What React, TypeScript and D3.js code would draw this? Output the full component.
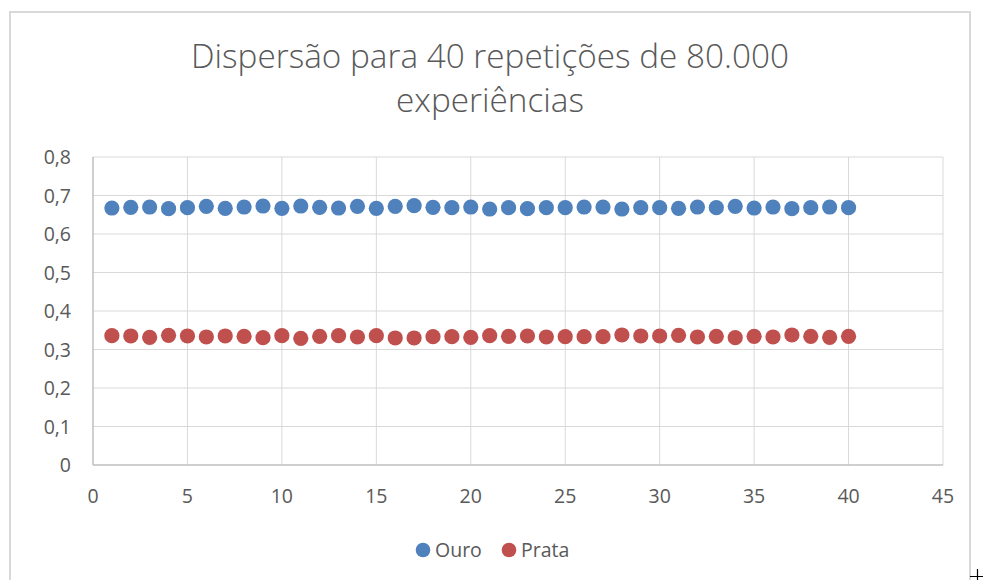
import React, { useRef, useEffect } from "react";
import * as d3 from "d3";

// repetition number 1..40
const repeticoes = d3.range(1, 41);

const ouro = [
  0.6675, 0.6693, 0.6701, 0.6658, 0.6684, 0.6719, 0.6667, 0.6701, 0.6727, 0.6667,
  0.6727, 0.6693, 0.6675, 0.6719, 0.6667, 0.6719, 0.6736, 0.6693, 0.6684, 0.6701,
  0.6649, 0.6684, 0.6658, 0.6684, 0.6684, 0.6701, 0.6701, 0.6649, 0.6684, 0.6684,
  0.6667, 0.6701, 0.6684, 0.6719, 0.6675, 0.6701, 0.6658, 0.6684, 0.6701, 0.6684,
];

const prata = [
  0.3359, 0.3351, 0.3316, 0.3368, 0.3351, 0.3325, 0.3351, 0.3342, 0.3307, 0.3359,
  0.329, 0.3342, 0.3359, 0.3325, 0.3359, 0.3299, 0.3299, 0.3333, 0.3333, 0.3316,
  0.3359, 0.3342, 0.3351, 0.3325, 0.3333, 0.3333, 0.3333, 0.3377, 0.3351, 0.3351,
  0.3368, 0.3325, 0.3342, 0.3307, 0.3342, 0.3325, 0.3377, 0.3342, 0.3316, 0.3342,
];

const xTicks = [0, 5, 10, 15, 20, 25, 30, 35, 40, 45];
const yTicks = [0, 0.1, 0.2, 0.3, 0.4, 0.5, 0.6, 0.7, 0.8];
const tituloLinhas = ["Dispersão para 40 repetições de 80.000", "experiências"];
const series = [
  { name: "Ouro", values: ouro, color: "#4f81bd" },
  { name: "Prata", values: prata, color: "#c0504d" },
];

const W = 983;
const H = 580;
const FONT = "'Open Sans', 'Noto Sans', sans-serif";
const TEXT = "#595959";

export default function App() {
  const svgRef = useRef<SVGSVGElement>(null);

  useEffect(() => {
    const svg = d3.select(svgRef.current);
    svg.selectAll("*").remove();

    const x = d3.scaleLinear().domain([0, 45]).range([93, 943]);
    const y = d3.scaleLinear().domain([0, 0.8]).range([465, 157]);
    const fmt = (v: number) => (v === 0 ? "0" : d3.format(".1f")(v).replace(".", ","));

    svg.append("rect").attr("width", W).attr("height", H).attr("fill", "white");

    // chart frame
    svg
      .append("rect")
      .attr("x", 10)
      .attr("y", 12)
      .attr("width", 960)
      .attr("height", 620)
      .attr("fill", "none")
      .attr("stroke", "#d9d9d9")
      .attr("stroke-width", 2);

    // title (two lines)
    svg
      .append("g")
      .selectAll("text")
      .data(tituloLinhas)
      .enter()
      .append("text")
      .attr("x", 490)
      .attr("y", (d, i) => 68 + i * 44)
      .attr("text-anchor", "middle")
      .attr("font-family", FONT)
      .attr("font-weight", 300)
      .attr("font-size", 33.3)
      .attr("fill", TEXT)
      .text((d) => d);

    // grid
    const grid = svg.append("g");
    grid
      .selectAll(".h")
      .data(yTicks.slice(1))
      .enter()
      .append("line")
      .attr("x1", x(0))
      .attr("x2", x(45))
      .attr("y1", (d) => y(d))
      .attr("y2", (d) => y(d))
      .attr("stroke", "#d9d9d9");
    grid
      .selectAll(".v")
      .data(xTicks.slice(1))
      .enter()
      .append("line")
      .attr("x1", (d) => x(d))
      .attr("x2", (d) => x(d))
      .attr("y1", y(0))
      .attr("y2", y(0.8))
      .attr("stroke", "#d9d9d9");

    // axes lines
    svg
      .append("line")
      .attr("x1", x(0))
      .attr("x2", x(45))
      .attr("y1", y(0))
      .attr("y2", y(0))
      .attr("stroke", "#bfbfbf")
      .attr("stroke-width", 1.5);
    svg
      .append("line")
      .attr("x1", x(0))
      .attr("x2", x(0))
      .attr("y1", y(0))
      .attr("y2", y(0.8))
      .attr("stroke", "#bfbfbf")
      .attr("stroke-width", 1.5);

    // tick labels
    svg
      .append("g")
      .selectAll("text")
      .data(yTicks)
      .enter()
      .append("text")
      .attr("x", 71)
      .attr("y", (d) => y(d))
      .attr("dy", "0.36em")
      .attr("text-anchor", "end")
      .attr("font-family", FONT)
      .attr("font-size", 19.5)
      .attr("fill", TEXT)
      .text((d) => fmt(d));
    svg
      .append("g")
      .selectAll("text")
      .data(xTicks)
      .enter()
      .append("text")
      .attr("x", (d) => x(d))
      .attr("y", 503)
      .attr("text-anchor", "middle")
      .attr("font-family", FONT)
      .attr("font-size", 19.5)
      .attr("fill", TEXT)
      .text((d) => d);

    // points
    series.forEach((s) => {
      svg
        .append("g")
        .selectAll("circle")
        .data(s.values)
        .enter()
        .append("circle")
        .attr("cx", (d, i) => x(repeticoes[i]))
        .attr("cy", (d) => y(d))
        .attr("r", 7.6)
        .attr("fill", s.color);
    });

    // legend
    const legX = [423, 509];
    const leg = svg
      .append("g")
      .selectAll("g")
      .data(series)
      .enter()
      .append("g")
      .attr("transform", (d, i) => `translate(${legX[i]},550)`);
    leg.append("circle").attr("r", 7.3).attr("fill", (d) => d.color);
    leg
      .append("text")
      .attr("x", 12)
      .attr("dy", "0.36em")
      .attr("font-family", FONT)
      .attr("font-size", 19.5)
      .attr("fill", TEXT)
      .text((d) => d.name);

    // little cursor mark in the corner
    svg
      .append("path")
      .attr("d", "M970,576.5H984M977.5,569V580")
      .attr("stroke", "black")
      .attr("stroke-width", 1.2);
  }, []);

  return (
    <svg
      ref={svgRef}
      width={W}
      height={H}
      style={{ position: "absolute", left: 0, top: 0, display: "block" }}
    />
  );
}
